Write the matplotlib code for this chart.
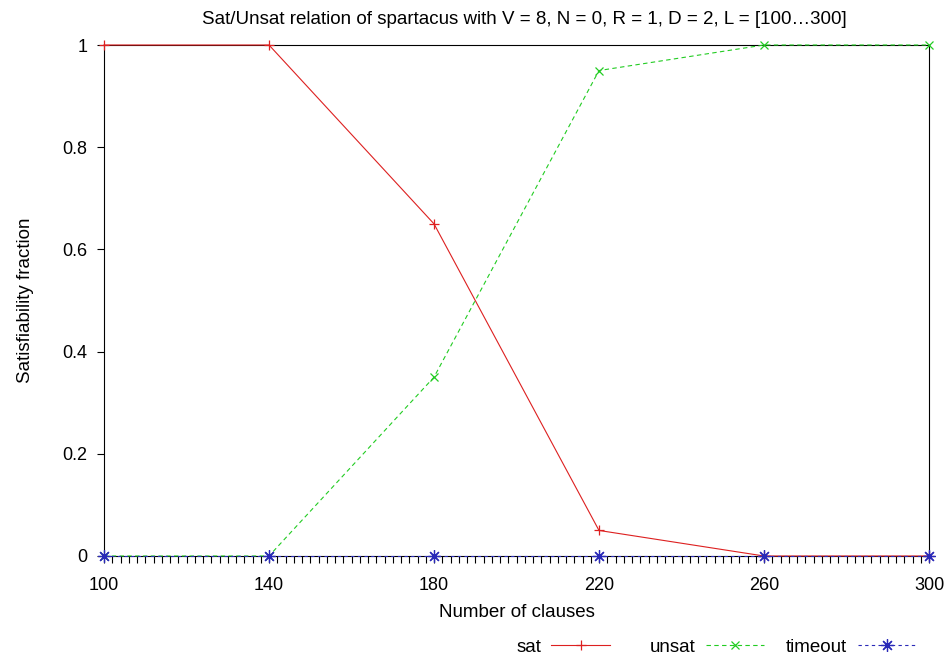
import matplotlib
matplotlib.use("Agg")
import matplotlib.pyplot as plt
import numpy as np

clauses = [100, 140, 180, 220, 260, 300]
sat = [1.0, 1.0, 0.65, 0.05, 0.0, 0.0]
unsat = [0.0, 0.0, 0.35, 0.95, 1.0, 1.0]
timeout = [0.0, 0.0, 0.0, 0.0, 0.0, 0.0]
series_names = ["sat", "unsat", "timeout"]
x_major = [100, 140, 180, 220, 260, 300]
y_major = [0, 0.2, 0.4, 0.6, 0.8, 1]
y_labels = ["0", "0.2", "0.4", "0.6", "0.8", "1"]
title = "Sat/Unsat relation of spartacus with V = 8, N = 0, R = 1, D = 2, L = [100…300]"

plt.rcParams['font.family'] = ['Liberation Sans', 'DejaVu Sans']
plt.rcParams['font.size'] = 13.5

fig = plt.figure(figsize=(9.48, 6.54), dpi=100)
ax = fig.add_axes([104/948, 1-556/654, (929-104)/948, (556-45)/654])

lw = 0.8
h1, = ax.plot(clauses, sat, color='#dd2020', lw=lw, marker='+', ms=7, mew=0.9,
              clip_on=False, label=series_names[0], zorder=3)
h2, = ax.plot(clauses, unsat, color='#22cc22', lw=lw, ls=(0, (4, 3)), marker='x', ms=6, mew=0.9,
              clip_on=False, label=series_names[1], zorder=4)
h3, = ax.plot(clauses, timeout, color='#2a2ab8', lw=lw, ls=(0, (3, 3)), marker=(8, 2, 0), ms=9, mew=0.9,
              clip_on=False, label=series_names[2], zorder=5)

ax.set_xlim(100, 300)
ax.set_ylim(0, 1)
ax.set_xticks(np.arange(100, 301, 2), minor=True)
ax.set_xticks(x_major)
ax.set_xticklabels([str(v) for v in x_major])
ax.set_yticks(y_major)
ax.set_yticklabels(y_labels)
ax.tick_params(axis='x', which='both', direction='out', length=5, width=0.8, pad=10,
               color='black', labelsize=13)
ax.tick_params(axis='y', which='both', direction='out', length=5, width=0.8, pad=7,
               color='black', labelsize=13)
for s in ax.spines.values():
    s.set_linewidth(0.8)

ax.set_xlabel("Number of clauses", labelpad=7)
ax.set_ylabel("Satisfiability fraction", labelpad=20)
ax.set_title(title, pad=15, fontsize=13.5, x=0.51)

col_right = [0.643, 0.806, 0.966]
for h, xr in zip([h1, h2, h3], col_right):
    fig.legend(handles=[h], loc='center right', bbox_to_anchor=(xr, 0.0105), frameon=False,
               markerfirst=False, handlelength=3.1, handletextpad=0.55,
               borderaxespad=0, borderpad=0, fontsize=13.5)

fig.savefig("out.png", dpi=100)
